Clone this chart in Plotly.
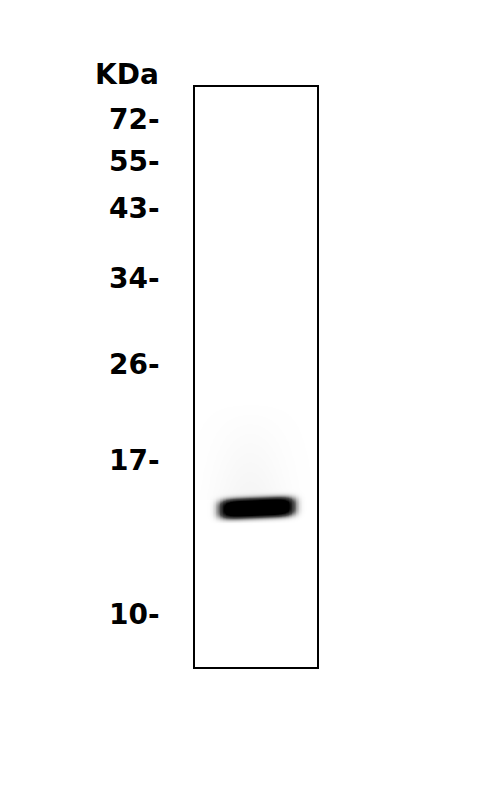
import numpy as np
import plotly.graph_objects as go

# molecular weight ladder (kDa) and where each marker ran on the gel (px from top)
marker_labels = ["72", "55", "43", "34", "26", "17", "10"]
marker_positions = [118, 160, 208, 278, 364, 460, 615]

# detected band: lane position (0-1 across the lane) and migration position
band_left = [0.21]
band_right = [0.80]
band_top = [500, 497]      # left end, right end (band tilts up slightly)
band_bottom = [518, 515]

gel_top, gel_bottom = 86, 668
off = 7  # page offset of the browser body

# render the lane as an image
xs = np.linspace(0, 1, 160)
ys = np.arange(gel_top, gel_bottom + 1, 1.0)
X, Y = np.meshgrid(xs, ys)

xc = (band_left[0] + band_right[0]) / 2
hw = (band_right[0] - band_left[0]) / 2
t = (X - band_left[0]) / (band_right[0] - band_left[0])
yc = (band_top[0] + band_bottom[0]) / 2 * (1 - t) + (band_top[1] + band_bottom[1]) / 2 * t
hh = (band_bottom[0] - band_top[0]) / 2
band = np.exp(-np.abs((X - xc) / hw) ** 6) * np.exp(-np.abs((Y - yc) / hh) ** 3)
band = np.clip(band * 1.7, 0, 1)

# faint smear above the band
smear = 0.03 * np.exp(-((X - 0.45) / 0.3) ** 2) * np.clip((Y - 400) / 100, 0, 1) * (Y < 500)
z = np.clip(band + smear, 0, 1)

fig = go.Figure()
fig.add_trace(go.Heatmap(
    x=xs, y=ys, z=z, zmin=0, zmax=1, zsmooth="best",
    colorscale=[[0, "white"], [0.5, "#505050"], [1, "black"]],
    showscale=False, hoverinfo="skip",
))

font = dict(family="DejaVu Sans", size=28, color="black")

fig.update_layout(
    width=500, height=809,
    margin=dict(l=0, r=0, t=0, b=0),
    paper_bgcolor="white", plot_bgcolor="white",
    showlegend=False,
    xaxis=dict(domain=[(194 - off) / 500, (316 - off) / 500], range=[0, 1],
               showticklabels=False, ticks="", showgrid=False, zeroline=False,
               showline=True, linecolor="black", linewidth=1.5, mirror=True),
    yaxis=dict(domain=[1 - (gel_bottom - 2 - off) / 809, 1 - (gel_top - off) / 809],
               range=[gel_bottom, gel_top], showgrid=False, zeroline=False,
               showline=True, linecolor="black", linewidth=1.5, mirror=True,
               tickmode="array", tickvals=marker_positions,
               ticktext=["<b>%s-</b>" % m for m in marker_labels],
               ticks="", tickfont=font, ticklabelstandoff=28),
)

fig.add_annotation(x=(160 - off) / 500, y=1 - (73 - off) / 809, xref="paper", yref="paper",
                   text="<b>KDa</b>", showarrow=False, xanchor="right",
                   yanchor="middle", font=font)

fig.write_html("out.html")
